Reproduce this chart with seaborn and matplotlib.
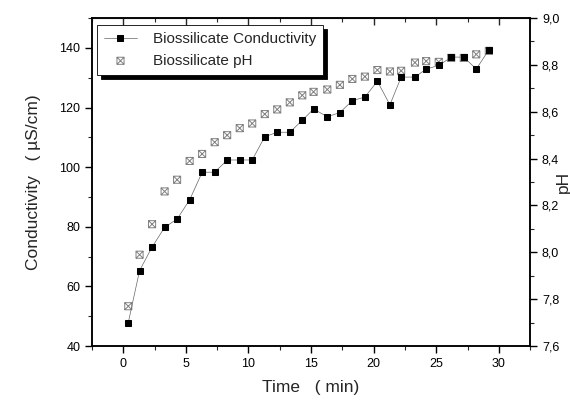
import numpy as np
import pandas as pd
import matplotlib
matplotlib.use("Agg")
import matplotlib.pyplot as plt
from matplotlib.path import Path
from matplotlib.ticker import MultipleLocator, FuncFormatter
import seaborn as sns

# values
time_min = [0.4, 1.3, 2.3, 3.3, 4.3, 5.3, 6.3, 7.3, 8.3, 9.3,
            10.3, 11.3, 12.3, 13.3, 14.3, 15.2, 16.3, 17.3, 18.3, 19.3,
            20.3, 21.3, 22.2, 23.3, 24.2, 25.2, 26.2, 27.2, 28.2, 29.2]
conductivity = [47.9, 65.3, 73.2, 79.8, 82.6, 89.0, 98.3, 98.3, 102.4, 102.4,
                102.4, 110.2, 111.7, 111.7, 115.7, 119.5, 116.9, 118.3, 122.3, 123.5,
                128.8, 120.9, 130.2, 130.2, 132.9, 134.1, 136.9, 136.9, 132.9, 139.3]
ph = [7.77, 7.99, 8.12, 8.26, 8.31, 8.39, 8.42, 8.47, 8.50, 8.53,
      8.55, 8.59, 8.61, 8.64, 8.67, 8.685, 8.695, 8.715, 8.74, 8.75,
      8.778, 8.772, 8.775, 8.81, 8.816, 8.813, 8.83, 8.83, 8.845, 8.86]

df = pd.DataFrame({"Time": time_min, "Conductivity": conductivity, "pH": ph})

sns.set_style("ticks")
plt.rcParams["font.family"] = ["Liberation Sans", "DejaVu Sans"]

# square with both diagonals, like Origin's crossed square
verts = [(-1, -1), (1, -1), (1, 1), (-1, 1), (-1, -1),
         (-1, -1), (1, 1), (-1, 1), (1, -1)]
codes = [Path.MOVETO, Path.LINETO, Path.LINETO, Path.LINETO, Path.CLOSEPOLY,
         Path.MOVETO, Path.LINETO, Path.MOVETO, Path.LINETO]
xsquare = Path(verts, codes)

fig = plt.figure(figsize=(5.7, 4.01), dpi=100)
ax = fig.add_axes([0.1614, 0.137, 0.7686, 0.818])
ax2 = ax.twinx()

sns.lineplot(data=df, x="Time", y="Conductivity", ax=ax, color="#666666",
             lw=0.5, marker="s", markersize=5, markerfacecolor="black",
             markeredgecolor="black", label="Biossilicate Conductivity",
             legend=False)
sns.scatterplot(data=df, x="Time", y="pH", ax=ax2, marker=xsquare, s=26,
                facecolor="none", edgecolor="#808080", linewidth=0.7,
                label="Biossilicate pH", legend=False)

ax.set_zorder(ax2.get_zorder() + 1)
ax.patch.set_visible(False)

ax.set_xlim(-2.5, 32.5)
ax.set_ylim(40, 150)
ax2.set_ylim(7.6, 9.0)

ax.xaxis.set_major_locator(MultipleLocator(5))
ax.xaxis.set_minor_locator(MultipleLocator(2.5))
ax.yaxis.set_major_locator(MultipleLocator(20))
ax.yaxis.set_minor_locator(MultipleLocator(10))
ax2.yaxis.set_major_locator(MultipleLocator(0.2))
ax2.yaxis.set_minor_locator(MultipleLocator(0.1))
ax2.yaxis.set_major_formatter(FuncFormatter(lambda v, p: f"{v:.1f}".replace(".", ",")))

for a in (ax, ax2):
    a.tick_params(which="major", direction="out", length=5, width=1,
                  labelsize=9, colors="black")
    a.tick_params(which="minor", direction="out", length=3, width=0.8)
    for s in a.spines.values():
        s.set_visible(True)
        s.set_linewidth(1.1)
        s.set_color("black")

top = ax.secondary_xaxis("top")
top.xaxis.set_major_locator(MultipleLocator(5))
top.xaxis.set_minor_locator(MultipleLocator(2.5))
top.tick_params(which="major", direction="in", length=5, width=1, labeltop=False)
top.tick_params(which="minor", direction="in", length=3, width=0.8)

ax.set_xlabel("Time   ( min)", fontsize=12.5, labelpad=7)
ax.set_ylabel("Conductivity   ( \u00b5S/cm)", fontsize=12.5, labelpad=13)
ax2.set_ylabel("pH", fontsize=12.5)
ax2.yaxis.set_label_coords(1.06, 0.5)

h1, l1 = ax.get_legend_handles_labels()
h2, l2 = ax2.get_legend_handles_labels()
leg = ax.legend(h1 + h2, l1 + l2, loc="upper left", bbox_to_anchor=(0.011, 0.978),
                borderaxespad=0, fontsize=11, frameon=True, fancybox=False,
                edgecolor="black", framealpha=1, borderpad=0.45,
                handlelength=2.2, handletextpad=1.0, labelspacing=0.5,
                shadow={"ox": 3, "oy": -3, "color": "black", "alpha": 1})
leg.get_frame().set_linewidth(0.6)

fig.savefig("out.png", dpi=100)
